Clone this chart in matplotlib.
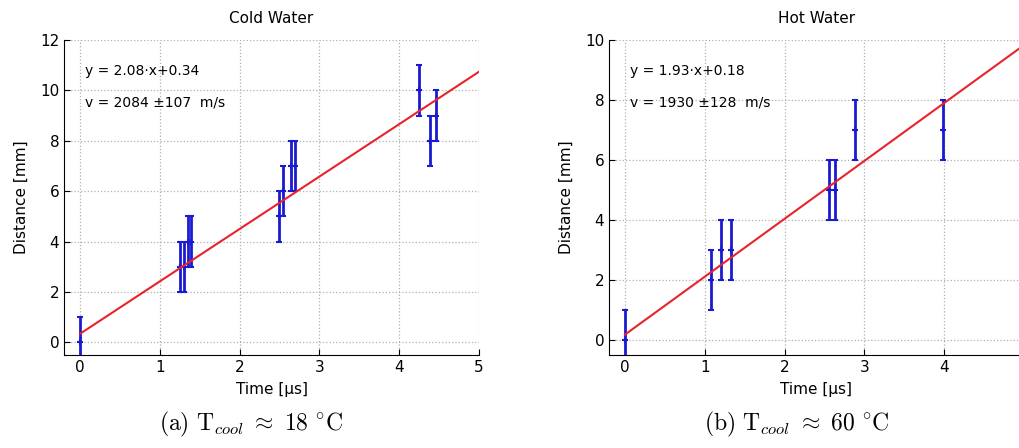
import matplotlib as mpl
mpl.use('Agg')
import matplotlib.pyplot as plt
import numpy as np

plt.rcParams['font.family'] = ['DejaVu Sans']
plt.rcParams['mathtext.fontset'] = 'cm'

# cold water measurements
t_cold = [0.0, 1.25, 1.30, 1.35, 1.39, 2.50, 2.55, 2.65, 2.70, 4.25, 4.39, 4.46]
d_cold = [0, 3, 3, 4, 4, 5, 6, 7, 7, 10, 8, 9]
e_cold = [1, 1, 1, 1, 1, 1, 1, 1, 1, 1, 1, 1]
fit_cold = (2.08, 0.34)

# hot water measurements
t_hot = [0.0, 1.08, 1.20, 1.33, 2.56, 2.63, 2.88, 3.98]
d_hot = [0, 2, 3, 3, 5, 5, 7, 7]
e_hot = [1, 1, 1, 1, 1, 1, 1, 1]
fit_hot = (1.93, 0.18)

titles = ['Cold Water', 'Hot Water']
fit_txt = ['y = 2.08·x+0.34', 'y = 1.93·x+0.18']
v_txt = ['v = 2084 ±107  m/s', 'v = 1930 ±128  m/s']
captions = [r'$\mathrm{(a)\ T}_{cool}\ \approx\ \mathrm{18\ {}^{\circ}C}$',
            r'$\mathrm{(b)\ T}_{cool}\ \approx\ \mathrm{60\ {}^{\circ}C}$']

W, H = 1019, 448
fig = plt.figure(figsize=(W/100, H/100), dpi=100)

lefts = [64, 609]
datasets = [(t_cold, d_cold, e_cold, fit_cold, 12), (t_hot, d_hot, e_hot, fit_hot, 10)]

for i in range(2):
    t, d, e, fit, ymax = datasets[i]
    ax = fig.add_axes([lefts[i]/W, 1 - 355/H, 415/W, 315/H])
    xx = np.array([0, 5])
    ax.plot(xx, fit[0]*xx + fit[1], '-', color='#e8232b', lw=1.5, zorder=3)
    ax.errorbar(t, d, yerr=e, fmt='+', color='#1a1ad0', ecolor='#1a1ad0',
                elinewidth=2, capsize=2, capthick=1, ms=4, mew=1.5, zorder=2)
    ax.set_xlim(-0.2, 5)
    ax.set_ylim(-0.5, ymax)
    ax.set_xticks(range(0, 6))
    ax.set_yticks(range(0, ymax + 1, 2))
    ax.spines['top'].set_visible(False)
    ax.spines['right'].set_visible(False)
    ax.tick_params(direction='in', labelsize=11, length=4, width=0.8)
    ax.grid(True, linestyle=':', color='#b0b0b0', lw=0.9)
    ax.set_title(titles[i], fontsize=11, pad=12)
    ax.set_xlabel('Time [µs]', fontsize=11, labelpad=5)
    ax.set_ylabel('Distance [mm]', fontsize=11, labelpad=8)
    ax.text(0.05, 0.90, fit_txt[i], transform=ax.transAxes, fontsize=10, va='center')
    ax.text(0.05, 0.80, v_txt[i], transform=ax.transAxes, fontsize=10, va='center')

fig.text(251/W, 1 - 424/H, captions[0], fontsize=17, ha='center', va='center')
fig.text(797/W, 1 - 424/H, captions[1], fontsize=17, ha='center', va='center')

plt.savefig('out.png', dpi=100)
